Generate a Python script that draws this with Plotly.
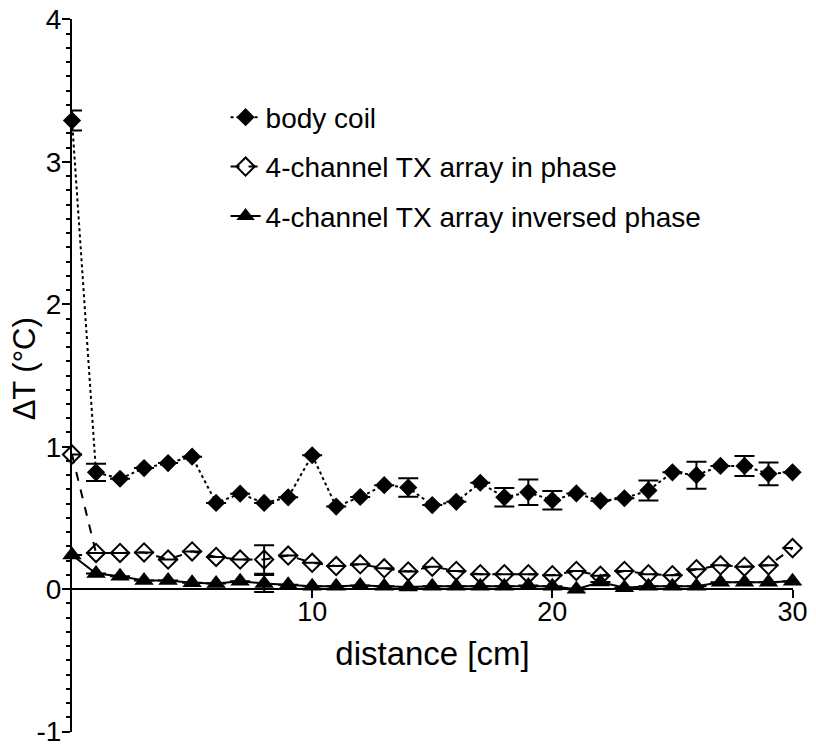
import plotly.graph_objects as go

distance = list(range(31))

body_coil = [3.29, 0.82, 0.775, 0.85, 0.885, 0.93, 0.605, 0.67, 0.605, 0.645,
             0.94, 0.58, 0.647, 0.73, 0.713, 0.59, 0.613, 0.747, 0.645, 0.68,
             0.624, 0.672, 0.62, 0.638, 0.693, 0.82, 0.80, 0.865, 0.865, 0.81, 0.82]
body_coil_err = [0.07, 0.06, 0, 0, 0, 0, 0, 0, 0, 0,
                 0, 0, 0, 0, 0.065, 0, 0, 0, 0.065, 0.09,
                 0.065, 0, 0, 0, 0.07, 0, 0.095, 0, 0.07, 0.08, 0]

in_phase = [0.945, 0.254, 0.254, 0.258, 0.208, 0.265, 0.226, 0.208, 0.208, 0.236,
            0.185, 0.162, 0.174, 0.146, 0.124, 0.158, 0.128, 0.105, 0.105, 0.105,
            0.098, 0.128, 0.094, 0.128, 0.105, 0.098, 0.14, 0.167, 0.158, 0.167, 0.288]
in_phase_err = [0, 0, 0, 0, 0, 0, 0, 0, 0.1, 0,
                0, 0, 0, 0, 0, 0, 0, 0, 0, 0,
                0, 0, 0, 0, 0, 0, 0, 0, 0, 0, 0]

inversed = [0.24, 0.11, 0.09, 0.06, 0.06, 0.045, 0.04, 0.055, 0.04, 0.03,
            0.02, 0.02, 0.025, 0.02, 0.015, 0.02, 0.02, 0.02, 0.02, 0.025,
            0.02, 0.0, 0.05, 0.01, 0.02, 0.02, 0.02, 0.048, 0.048, 0.048, 0.055]
inversed_err = [0, 0, 0, 0, 0, 0, 0, 0, 0.06, 0,
                0, 0, 0, 0, 0, 0, 0, 0, 0, 0,
                0, 0, 0, 0, 0, 0, 0, 0, 0, 0, 0]

y_ticks = [-1, 0, 1, 2, 3, 4]
y_ticklabels = ['-1', '0', '1', '2', '3', '4']
x_ticks = [10, 20, 30]

FONT = 'Liberation Sans, Arial, sans-serif'

fig = go.Figure()

fig.add_trace(go.Scatter(
    x=distance, y=body_coil, name='body coil', mode='lines+markers',
    legendgroup='a',
    line=dict(color='black', width=2, dash='dot'),
    marker=dict(symbol='diamond', size=14, color='black'),
    error_y=dict(type='data', array=body_coil_err, color='black', thickness=2, width=10),
    cliponaxis=False))

fig.add_trace(go.Scatter(
    x=distance, y=in_phase, name='4-channel TX array in phase', mode='lines+markers',
    legendgroup='b',
    line=dict(color='black', width=2, dash='dash'),
    marker=dict(symbol='diamond-open', size=14, color='black', line=dict(width=2)),
    error_y=dict(type='data', array=in_phase_err, color='black', thickness=2, width=10),
    cliponaxis=False))

fig.add_trace(go.Scatter(
    x=distance, y=inversed, name='4-channel TX array inversed phase', mode='lines+markers',
    legendgroup='c',
    line=dict(color='black', width=2),
    marker=dict(symbol='triangle-up', size=17, color='black'),
    error_y=dict(type='data', array=inversed_err, color='black', thickness=2, width=10),
    cliponaxis=False))

# the page body keeps its default 8px margin, so the figure is made smaller
# than the window
fig.update_layout(
    width=800, height=736,
    margin=dict(l=64, r=15, t=11, b=12),
    paper_bgcolor='white', plot_bgcolor='white',
    font=dict(family=FONT, color='black', size=28),
    showlegend=True,
    legend=dict(x=0.213, y=0.897, xanchor='left', yanchor='top',
                font=dict(size=28), bgcolor='rgba(0,0,0,0)',
                tracegroupgap=10),
    annotations=[dict(text='ΔT (°C)', textangle=-90, showarrow=False,
                      xref='paper', yref='paper', x=-0.0666, y=0.51,
                      xanchor='center', yanchor='middle',
                      font=dict(size=31))],
)

fig.update_xaxes(
    range=[0, 30.02], anchor='free', position=0.2, automargin=False,
    showline=True, linecolor='black', linewidth=2,
    showgrid=False, zeroline=False,
    tickvals=x_ticks, ticks='outside', ticklen=8, tickwidth=2, tickcolor='black',
    tickfont=dict(size=27), ticklabeloverflow='allow', ticklabelstandoff=-10,
    title=dict(text='distance [cm]', font=dict(size=33)),
)

fig.update_yaxes(
    range=[-1.003, 4.003], automargin=False,
    showline=True, linecolor='black', linewidth=2,
    showgrid=False, zeroline=False,
    tickvals=y_ticks, ticktext=y_ticklabels,
    ticks='outside', ticklen=8, tickwidth=2, tickcolor='black',
    minor=dict(dtick=0.1, ticks='outside', ticklen=4, tickwidth=2, tickcolor='black'),
    tickfont=dict(size=28), ticklabeloverflow='allow', ticklabelstandoff=-5,
)

fig.write_html("out.html")
